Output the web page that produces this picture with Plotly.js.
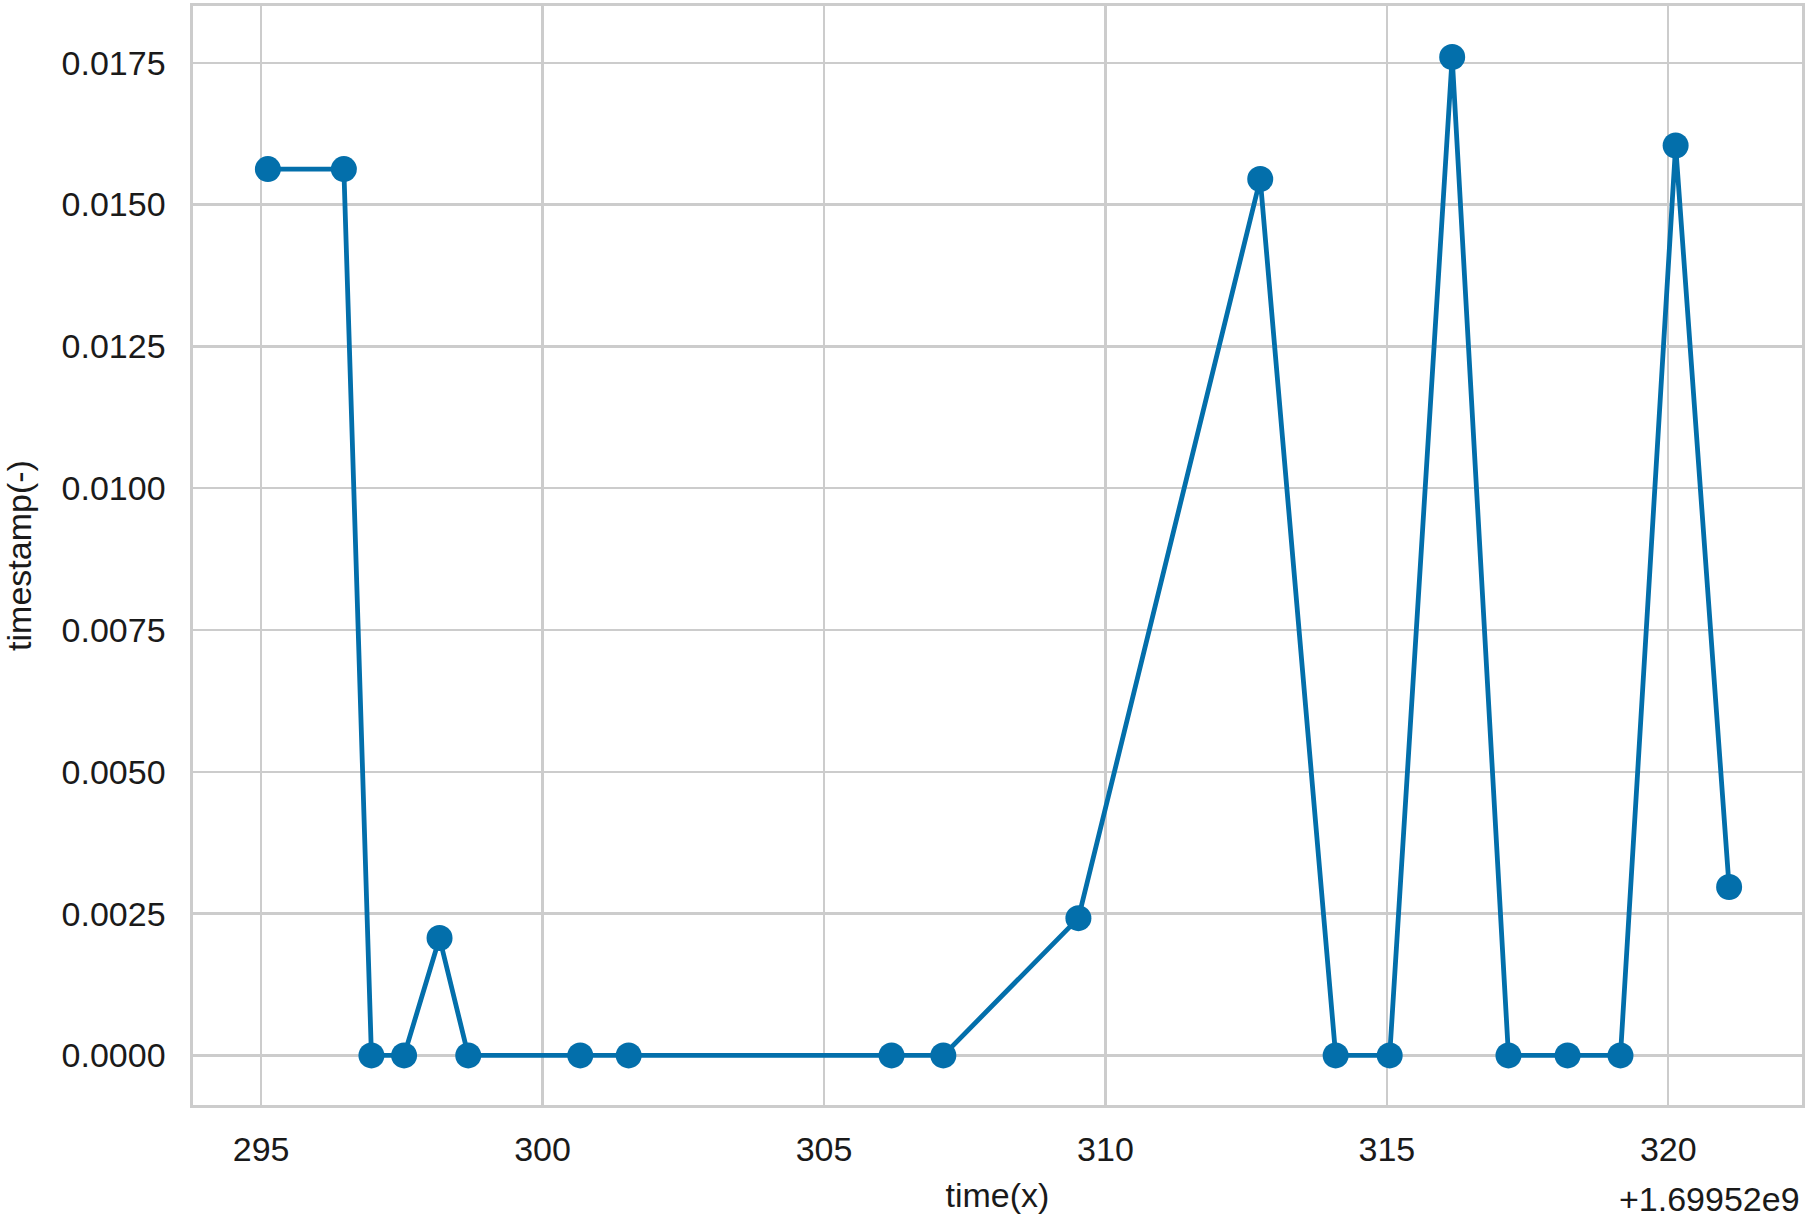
<!DOCTYPE html>
<html>
<head>
<meta charset="utf-8">
<script src="https://cdn.plot.ly/plotly-3.0.1.min.js"></script>
<style>
  html, body { margin: 0; padding: 0; background: #fff; }
  #chart { width: 1808px; height: 1225px; }
</style>
</head>
<body>
<div id="chart"></div>
<script>
// time offsets (seconds) relative to the axis offset
const timeBase = "+1.69952e9";
const timeOffset = [295.12, 296.47, 296.96, 297.54, 298.17, 298.68, 300.67, 301.53,
                    306.20, 307.12, 309.52, 312.75, 314.09, 315.05, 316.16, 317.16,
                    318.21, 319.15, 320.13, 321.08];
const stampValue = [0.015625, 0.015625, 0, 0, 0.00207, 0, 0, 0,
                    0, 0, 0.00242, 0.01545, 0, 0, 0.0176, 0,
                    0, 0, 0.01604, 0.00297];

const lineBlue = "#036fab";
const gridGray = "#cccccc";
const fontFamily = "Liberation Sans, Arial, sans-serif";

const trace = {
    x: timeOffset,
    y: stampValue,
    mode: "lines+markers",
    line: { color: lineBlue, width: 4.8 },
    marker: { color: lineBlue, size: 26 },
    hoverinfo: "x+y"
};

const layout = {
    width: 1808,
    height: 1225,
    margin: { l: 193, r: 6, t: 6, b: 120 },
    paper_bgcolor: "#ffffff",
    plot_bgcolor: "#ffffff",
    showlegend: false,
    font: { family: fontFamily, size: 34, color: "#1a1a1a" },
    xaxis: {
        range: [293.79, 322.375],
        tick0: 295,
        dtick: 5,
        showgrid: true,
        gridcolor: gridGray,
        gridwidth: 2.3,
        zeroline: false,
        showline: true,
        mirror: true,
        linecolor: gridGray,
        linewidth: 2.6,
        ticks: "outside",
        ticklen: 13,
        tickcolor: "rgba(0,0,0,0)",
        title: { text: "time(x)", standoff: 16, font: { size: 34 } }
    },
    yaxis: {
        range: [-0.000874, 0.0185],
        tick0: 0,
        dtick: 0.0025,
        tickformat: ".4f",
        showgrid: true,
        gridcolor: gridGray,
        gridwidth: 2.3,
        zeroline: false,
        showline: true,
        mirror: true,
        linecolor: gridGray,
        linewidth: 2.6,
        ticks: "outside",
        ticklen: 18,
        tickcolor: "rgba(0,0,0,0)",
        title: { text: "timestamp(-)", standoff: 20, font: { size: 34 } }
    },
    annotations: [{
        text: timeBase,
        xref: "paper", yref: "paper",
        x: 1, y: 0,
        xanchor: "right", yanchor: "middle",
        yshift: -94,
        showarrow: false,
        font: { family: fontFamily, size: 34, color: "#1a1a1a" }
    }]
};

Plotly.newPlot("chart", [trace], layout, { displayModeBar: false, staticPlot: true });
</script>
</body>
</html>
